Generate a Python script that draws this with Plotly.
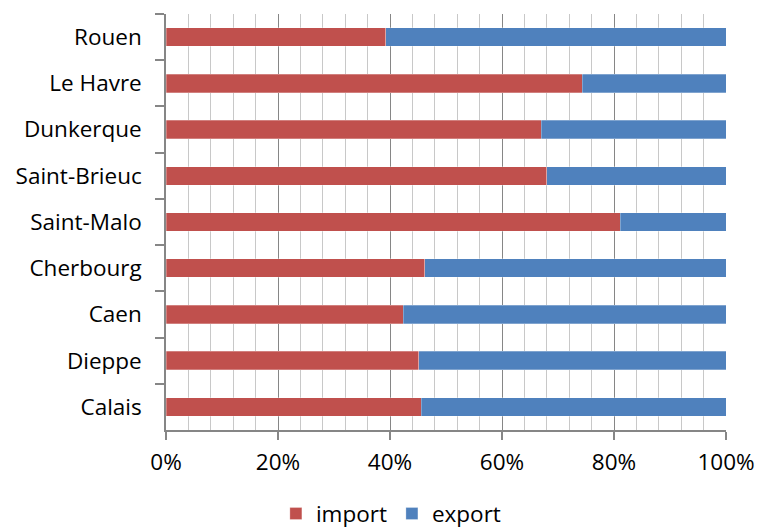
import plotly.graph_objects as go

# Ports listed top to bottom
ports = ["Rouen", "Le Havre", "Dunkerque", "Saint-Brieuc", "Saint-Malo",
         "Cherbourg", "Caen", "Dieppe", "Calais"]
import_pct = [39.2, 74.3, 67.0, 68.0, 81.1, 46.2, 42.4, 45.1, 45.6]
export_pct = [100 - v for v in import_pct]

x_ticks = [0, 20, 40, 60, 80, 100]
x_tick_text = ["0%", "20%", "40%", "60%", "80%", "100%"]

FONT = "Open Sans"
AXIS_GRAY = "#868686"

fig = go.Figure()
fig.add_trace(go.Bar(
    y=ports, x=import_pct, name="import", orientation="h",
    marker=dict(color="#C0504D", line=dict(color="rgba(255,255,255,0.35)", width=0.8)),
))
fig.add_trace(go.Bar(
    y=ports, x=export_pct, name="export", orientation="h",
    marker=dict(color="#4F81BD", line=dict(color="rgba(255,255,255,0.35)", width=0.8)),
))

fig.update_layout(
    barmode="stack",
    bargap=0.6,
    width=759, height=532,
    margin=dict(l=166, r=33, t=14, b=102, autoexpand=False),
    paper_bgcolor="white", plot_bgcolor="white",
    font=dict(family=FONT, size=22.5, color="#000000"),
    showlegend=True,
    legend=dict(
        orientation="h", xref="container", yref="container",
        x=0.515, xanchor="center", y=0.034, yanchor="middle",
        font=dict(size=22.5), itemwidth=30, traceorder="normal",
    ),
    xaxis=dict(
        range=[0, 100], tickvals=x_ticks, ticktext=x_tick_text,
        showgrid=True, gridcolor=AXIS_GRAY, gridwidth=1.3,
        minor=dict(dtick=4, tick0=0, showgrid=True, gridcolor="#C8C8C8", gridwidth=1.3),
        showline=True, linecolor=AXIS_GRAY, linewidth=1.5,
        ticks="outside", ticklen=8, tickcolor=AXIS_GRAY, tickwidth=1.5,
        ticklabelstandoff=3, zeroline=False, fixedrange=True, automargin=False,
    ),
    yaxis=dict(
        autorange="reversed", type="category",
        showgrid=False, showline=True, linecolor=AXIS_GRAY, linewidth=1.5,
        ticks="outside", tickson="boundaries", ticklen=9,
        tickcolor=AXIS_GRAY, tickwidth=1.5, ticklabelstandoff=18,
        zeroline=False, fixedrange=True, automargin=False,
    ),
)

fig.write_html("out.html")
